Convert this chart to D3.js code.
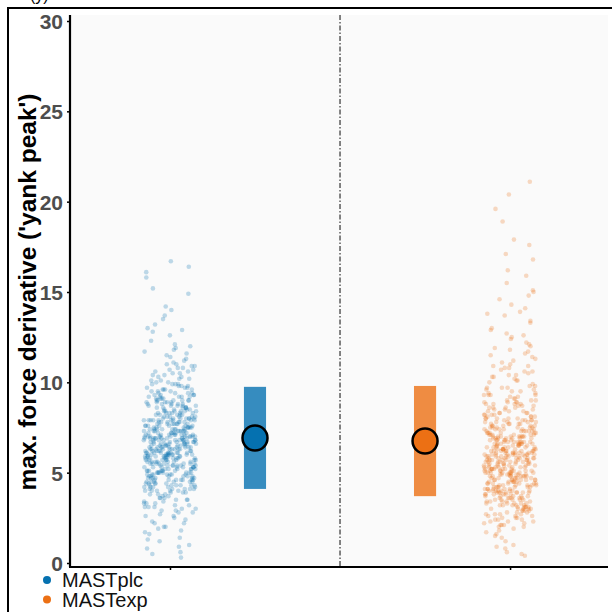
<!DOCTYPE html>
<html>
<head>
<meta charset="utf-8">
<script src="https://cdn.jsdelivr.net/npm/d3@7"></script>
<style>
  body { margin: 0; background: #fff; }
  text { font-family: "Liberation Sans", Arial, sans-serif; }
</style>
</head>
<body>
<div id="chart"></div>
<script>
var width = 612,
    height = 612;

// groups
var groups = ["MASTplc", "MASTexp"];
var colors = ["#0571b0", "#ec7014"];

var plcValues = [
  6.8, 4.3, 9.1, 7.5, 5.2, 3.1, 8.4, 6.1, 10.7, 5.8, 7.9, 4.9, 6.5, 2.6, 8.8, 7.2, 5.5, 11.4, 6.3, 4.6, 9.6, 7.0, 5.1, 13.2, 6.7,
  7.7, 5.9, 1.4, 8.2, 6.0, 4.1, 9.9, 7.4, 3.6, 6.9, 5.3, 8.6, 10.2, 6.4, 4.8, 7.1, 2.9, 9.3, 5.6, 6.6, 8.0, 4.4, 15.8, 7.8, 5.0,
  6.2, 8.9, 4.7, 7.3, 3.4, 5.7, 11.9, 6.9, 9.4, 4.2, 7.6, 0.6, 5.4, 8.3, 6.0, 10.4, 7.0, 3.8, 5.9, 8.7, 6.4, 4.5, 12.6, 7.4, 9.0,
  5.1, 7.9, 6.3, 2.2, 8.5, 4.9, 9.7, 6.8, 5.5, 10.9, 7.2, 4.0, 6.6, 8.1, 3.3, 5.8, 7.5, 16.4, 6.1, 9.2, 4.6, 7.8, 5.3, 11.1, 6.9,
  8.6, 6.0, 4.4, 7.3, 1.9, 5.6, 9.5, 6.7, 3.9, 8.0, 5.2, 7.1, 10.6, 4.8, 6.5, 8.8, 5.9, 2.7, 7.6, 9.9, 6.2, 4.1, 13.7, 7.0, 5.4,
  7.4, 5.0, 8.3, 6.4, 3.0, 9.1, 4.7, 7.7, 6.1, 11.6, 5.7, 8.9, 0.9, 6.8, 4.3, 7.2, 10.1, 5.5, 9.6, 6.6, 3.5, 8.2, 14.9, 5.9, 7.0,
  6.5, 9.3, 4.6, 7.9, 5.3, 2.4, 8.4, 6.2, 10.8, 5.0, 7.5, 4.0, 6.9, 8.7, 3.7, 5.8, 12.1, 7.3, 9.7, 6.0, 4.9, 7.8, 1.2, 8.1, 6.3,
  5.6, 7.1, 8.5, 4.2, 6.7, 9.0, 3.2, 7.6, 5.1, 10.3, 6.4, 8.0, 4.5, 7.3, 11.3, 5.7, 6.1, 2.8, 9.4, 7.9, 16.7, 4.8, 6.8, 8.6, 5.4,
  7.2, 4.4, 9.8, 6.0, 5.9, 8.2, 3.6, 7.0, 10.5, 4.7, 6.6, 8.9, 1.7, 5.2, 7.7, 9.2, 6.3, 4.1, 12.9, 7.4, 5.5, 8.4, 3.1, 6.9, 11.0,
  6.1, 8.1, 5.0, 7.5, 4.3, 9.5, 6.7, 2.0, 7.9, 5.7, 10.0, 6.4, 4.6, 8.7, 0.3, 7.1, 5.3, 9.0, 6.8, 3.9, 14.2, 7.6, 5.8, 8.3, 6.2,
  7.0, 5.5, 8.8, 6.3, 4.2, 9.4, 6.9, 3.5, 7.8, 5.1, 10.5, 6.5, 4.7, 8.3, 2.3, 7.3, 5.8, 11.7, 6.1, 4.0, 8.0, 6.6, 1.6, 9.2, 5.3,
  6.7, 8.5, 4.5, 7.2, 5.9, 3.3, 9.8, 6.2, 5.0, 7.9, 12.3, 4.8, 6.8, 8.7, 2.9, 5.6, 7.5, 10.0, 6.0, 4.3, 9.1, 7.1, 5.4, 15.2, 6.4,
  5.2, 7.6, 6.5, 9.0, 4.1, 8.1, 3.8, 6.9, 5.7, 10.9, 7.4, 4.6, 6.1, 8.9, 0.8, 5.9, 7.0, 9.6, 4.9, 6.3, 11.2, 8.4, 3.4, 7.7, 5.5,
  8.0, 6.0, 4.4, 7.3, 5.1, 9.3, 2.6, 6.7, 8.6, 5.8, 7.1, 4.0, 10.3, 6.4, 3.9, 7.9, 5.3, 13.5, 6.8, 9.9, 4.7, 7.5, 5.6, 1.3, 8.3,
  6.2, 4.8, 7.7, 5.5, 9.7, 6.6, 3.1, 8.2, 5.0, 7.0, 10.7, 4.3, 6.9, 8.8, 5.7, 2.5, 7.4, 6.0, 11.5, 4.5, 9.2, 7.8, 5.2, 14.0, 6.5,
  7.5, 5.9, 8.4, 4.6, 6.3, 9.0, 3.7, 7.2, 5.4, 10.1, 6.7, 8.0, 4.2, 7.6, 2.0, 5.8, 6.1, 9.5, 12.0, 4.9, 7.0, 8.6, 5.1, 6.8, 3.2,
  4.4, 6.6, 8.1, 5.6, 7.3, 3.6, 9.4, 6.0, 4.9, 7.8, 10.4, 5.3, 6.4, 8.9, 1.0, 7.1, 5.7, 9.8, 6.9, 4.1, 11.8, 7.5, 5.0, 8.3, 16.1,
  6.3, 7.9, 5.2, 8.7, 4.5, 6.8, 9.1, 3.0, 7.4, 5.9, 10.6, 6.1, 4.7, 8.0, 7.0, 2.8, 5.4, 12.8, 6.5, 9.6, 4.0, 7.7, 5.6, 8.5, 6.7,
  5.8, 8.2, 6.4, 4.3, 7.1, 9.3, 3.5, 6.9, 5.1, 10.2, 7.6, 4.6, 8.8, 6.0, 2.2, 5.5, 7.3, 11.0, 6.2, 9.0, 4.8, 7.9, 1.8, 6.6, 5.3,
  7.2, 4.9, 8.6, 6.5, 5.7, 9.9, 3.8, 7.0, 6.1, 4.2, 10.8, 5.0, 8.1, 6.8, 3.3, 7.7, 5.4, 13.0, 6.3, 9.2, 4.5, 7.4, 0.5, 8.4, 5.9
];
var expValues = [
  5.4, 3.2, 7.8, 6.1, 4.5, 9.3, 2.7, 6.6, 5.0, 11.2, 4.1, 7.3, 8.6, 3.8, 5.7, 6.9, 13.4, 4.8, 2.3, 7.0, 5.2, 9.8, 6.3, 1.5, 4.3,
  6.0, 8.1, 3.5, 5.6, 7.5, 4.6, 10.3, 2.9, 6.4, 5.1, 8.9, 3.9, 17.6, 4.9, 7.1, 6.7, 2.1, 5.8, 9.1, 4.2, 12.2, 6.2, 3.3, 7.7, 5.3,
  4.7, 6.8, 3.0, 8.4, 5.5, 7.2, 2.5, 6.0, 10.9, 4.4, 5.9, 9.5, 3.7, 15.1, 6.5, 4.0, 7.9, 0.8, 5.2, 8.0, 6.3, 3.4, 11.8, 4.8, 7.4,
  5.0, 7.6, 4.2, 6.6, 2.8, 9.0, 5.7, 3.6, 8.3, 6.1, 4.6, 13.0, 7.0, 5.4, 2.2, 10.1, 6.8, 3.9, 20.4, 4.5, 7.3, 5.9, 8.7, 1.9, 6.4,
  3.1, 6.2, 8.8, 4.9, 5.6, 7.1, 3.8, 11.5, 6.0, 4.3, 9.4, 2.6, 5.3, 7.8, 16.2, 4.1, 6.7, 5.1, 10.6, 3.5, 7.5, 0.4, 5.8, 8.2, 4.7,
  6.5, 4.0, 7.7, 5.5, 2.4, 9.7, 6.3, 3.3, 8.5, 4.8, 12.7, 5.9, 7.0, 3.9, 6.9, 14.3, 5.2, 2.0, 7.4, 4.4, 10.4, 6.1, 3.0, 8.0, 5.6,
  4.6, 7.2, 5.8, 3.7, 8.6, 6.4, 1.2, 5.0, 9.2, 4.2, 6.7, 11.0, 3.4, 7.9, 18.9, 5.4, 6.0, 2.7, 8.3, 4.9, 13.8, 6.6, 3.6, 7.3, 5.1,
  5.7, 3.2, 6.8, 8.9, 4.5, 7.5, 2.9, 10.8, 5.3, 6.2, 4.0, 9.6, 7.1, 3.8, 15.9, 5.9, 1.7, 6.5, 4.7, 8.1, 12.4, 5.0, 3.5, 7.6, 6.3,
  4.3, 6.9, 5.5, 2.3, 8.4, 7.0, 3.9, 9.9, 6.1, 4.8, 11.6, 5.2, 7.8, 3.1, 6.6, 21.1, 4.1, 5.7, 8.7, 2.5, 7.2, 10.2, 4.6, 6.0, 0.6,
  6.4, 4.4, 7.4, 5.1, 3.6, 8.2, 6.7, 2.1, 9.3, 5.8, 4.2, 14.8, 7.7, 5.4, 3.3, 10.7, 6.2, 1.0, 8.8, 4.9, 17.1, 5.6, 3.0, 7.0, 12.0,
  5.0, 7.1, 3.9, 6.3, 4.6, 8.6, 2.4, 5.8, 9.7, 4.1, 6.9, 3.2, 11.4, 5.3, 7.6, 4.8, 13.7, 6.0, 2.8, 8.0, 5.5, 3.6, 10.0, 6.6, 1.4,
  4.4, 6.7, 5.2, 8.3, 3.4, 7.3, 5.9, 2.0, 9.0, 4.9, 6.2, 12.6, 3.8, 7.8, 5.6, 4.0, 10.5, 6.4, 2.6, 8.8, 5.1, 16.8, 4.5, 7.0, 3.1,
  6.1, 3.7, 7.5, 5.4, 4.2, 9.2, 6.8, 2.9, 5.7, 8.1, 4.7, 11.9, 6.5, 3.3, 7.2, 5.0, 14.6, 4.3, 9.5, 6.0, 2.2, 7.9, 5.3, 3.9, 0.9,
  5.6, 8.4, 4.0, 6.6, 3.5, 7.4, 5.1, 10.3, 4.6, 6.9, 2.7, 8.7, 5.8, 3.0, 7.0, 12.9, 4.8, 6.3, 9.3, 5.5, 19.6, 3.7, 6.7, 4.4, 7.7,
  4.9, 6.2, 3.2, 7.6, 5.3, 8.5, 4.1, 2.5, 6.8, 9.8, 5.0, 7.2, 3.6, 11.1, 6.0, 4.5, 8.2, 5.7, 15.5, 3.4, 6.5, 1.8, 7.9, 5.2, 4.7,
  7.3, 5.5, 4.3, 8.9, 6.4, 3.1, 5.9, 9.4, 4.8, 7.0, 2.3, 6.1, 10.9, 5.1, 3.8, 8.0, 6.7, 4.0, 13.3, 5.6, 7.5, 2.9, 6.3, 4.6, 9.1,
  3.5, 6.0, 7.8, 4.4, 5.8, 8.3, 2.6, 6.9, 5.2, 10.6, 4.1, 7.4, 3.9, 6.5, 12.1, 5.4, 8.6, 0.5, 4.9, 7.1, 17.9, 6.2, 3.3, 5.7, 9.6,
  6.6, 4.2, 8.1, 5.0, 7.7, 3.0, 6.3, 9.0, 4.7, 5.9, 11.7, 3.6, 7.2, 5.3, 2.1, 8.5, 6.0, 4.4, 14.1, 6.8, 3.8, 10.1, 5.5, 7.5, 4.0,
  5.1, 7.0, 3.4, 6.4, 8.8, 4.6, 5.7, 2.8, 9.7, 6.1, 4.3, 7.9, 12.5, 5.2, 3.1, 6.7, 8.2, 4.9, 1.6, 7.3, 10.4, 5.8, 3.7, 6.2, 15.0,
  4.5, 6.9, 5.4, 3.9, 8.0, 6.5, 2.4, 7.6, 4.8, 9.3, 5.6, 3.2, 11.3, 6.1, 7.4, 4.2, 8.9, 5.0, 13.9, 2.7, 6.6, 4.0, 7.1, 5.9, 10.8
];

// summary (mean and spread) per group
var means = [6.92, 6.75];
var lower = [4.1, 3.7];
var upper = [9.75, 9.8];

var yTicks = [0, 5, 10, 15, 20, 25, 30];

var x = d3.scaleLinear().domain([0.706, 2.288]).range([70, 608]);
var y = d3.scaleLinear().domain([0, 30]).range([563, 21]);

var svg = d3.select("#chart").append("svg")
    .attr("width", width)
    .attr("height", height);

// clipped title remnant + outer frame
svg.append("text")
    .attr("x", 30)
    .attr("y", 1)
    .style("font-size", "16px")
    .text("(y)");

svg.append("rect")
    .attr("x", 8)
    .attr("y", 8)
    .attr("width", 700)
    .attr("height", 700)
    .attr("fill", "none")
    .attr("stroke", "#000")
    .attr("stroke-width", 2);

// panel
svg.append("rect")
    .attr("x", 71)
    .attr("y", 15)
    .attr("width", 537)
    .attr("height", 551)
    .attr("fill", "#fafafa");

// divider
svg.append("line")
    .attr("x1", x(1.5))
    .attr("x2", x(1.5))
    .attr("y1", 15)
    .attr("y2", 566)
    .attr("stroke", "#333")
    .attr("stroke-width", 1.2)
    .attr("stroke-dasharray", "5,2,1.5,2");

// jitter clouds
var jitterHalf = 0.077;
[plcValues, expValues].forEach(function(vals, g) {
  svg.append("g")
    .selectAll("circle")
      .data(vals)
    .enter().append("circle")
      .attr("cx", function(d, i) { return x(g + 1 + ((i * 0.6180339887) % 1 - 0.5) * 2 * jitterHalf); })
      .attr("cy", function(d) { return y(d); })
      .attr("r", 2.3)
      .attr("fill", colors[g])
      .attr("fill-opacity", 0.25);
});

// summary bars + mean points
var sumPos = [1.25, 1.75];
var barW = x(1.065) - x(1);
groups.forEach(function(name, g) {
  svg.append("rect")
      .attr("x", x(sumPos[g]) - barW / 2)
      .attr("y", y(upper[g]))
      .attr("width", barW)
      .attr("height", y(lower[g]) - y(upper[g]))
      .attr("fill", colors[g])
      .attr("fill-opacity", 0.8);
  svg.append("circle")
      .attr("cx", x(sumPos[g]))
      .attr("cy", y(means[g]))
      .attr("r", 12.5)
      .attr("fill", colors[g])
      .attr("stroke", "#000")
      .attr("stroke-width", 2.5);
});

// axes
var yAxis = svg.append("g")
    .attr("transform", "translate(70,0)")
    .call(d3.axisLeft(y).tickValues(yTicks).tickSize(3).tickPadding(4));
yAxis.select(".domain").attr("d", "M0,15V567").attr("stroke-width", 2.2);
yAxis.selectAll(".tick line").attr("stroke-width", 1.5);
yAxis.selectAll(".tick text")
    .style("font-size", "21px")
    .style("font-weight", "bold")
    .attr("fill", "#4d4d4d")
    .attr("dy", "0.36em");

var xAxis = svg.append("g")
    .attr("transform", "translate(0,567)")
    .call(d3.axisBottom(x).tickValues([1, 2]).tickSize(3).tickFormat(""));
xAxis.select(".domain").attr("d", "M69,0H608").attr("stroke-width", 2.2);
xAxis.selectAll(".tick line").attr("stroke-width", 1.5);

// y label
svg.append("text")
    .attr("transform", "rotate(-90)")
    .attr("x", -292)
    .attr("y", 36)
    .attr("text-anchor", "middle")
    .style("font-size", "24.5px")
    .style("font-weight", "bold")
    .text("max. force derivative ('yank peak')");

// legend
var legend = svg.append("g");
groups.forEach(function(name, g) {
  legend.append("circle")
      .attr("cx", 47)
      .attr("cy", 580 + g * 19.5)
      .attr("r", 4)
      .attr("fill", colors[g]);
  legend.append("text")
      .attr("x", 62)
      .attr("y", 587 + g * 19.5)
      .style("font-size", "20px")
      .attr("fill", "#111")
      .text(name);
});
</script>
</body>
</html>
